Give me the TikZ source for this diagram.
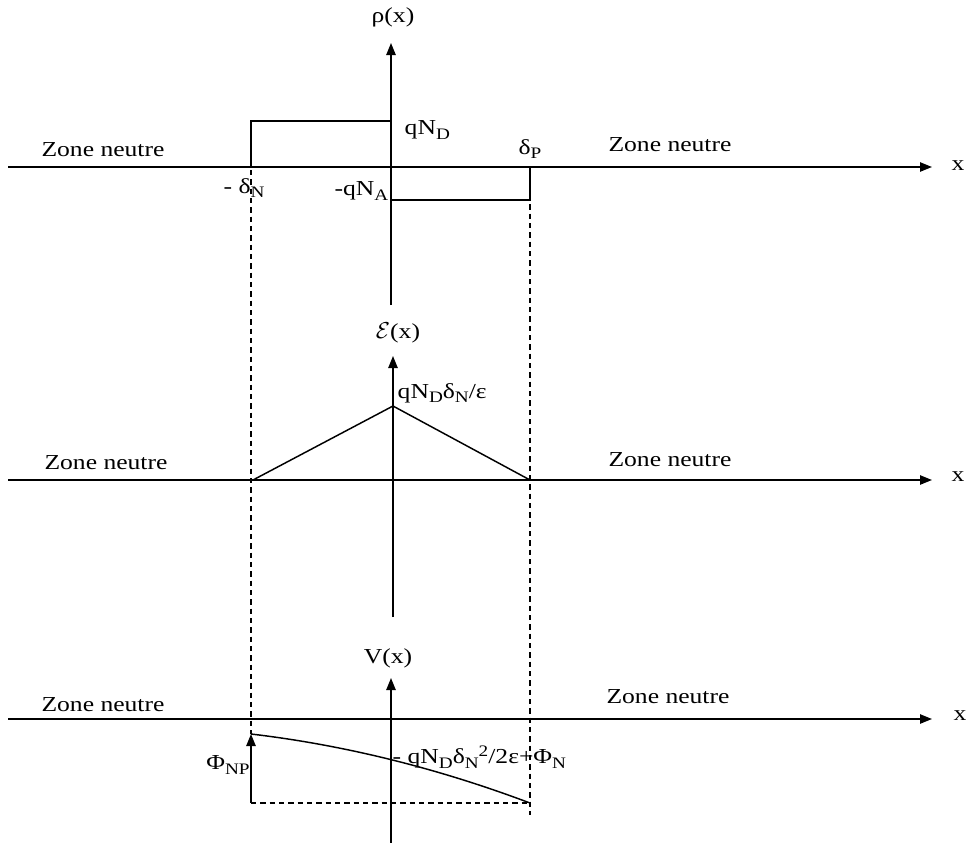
\documentclass[tikz,border=0pt]{standalone}
\usepackage{fontspec}
\setmainfont{Liberation Serif}[FakeStretch=1.2]
\usetikzlibrary{arrows.meta}
\newcommand\sbs[1]{\raisebox{-0.45ex}{\fontsize{12}{13}\selectfont #1}}
\newcommand\sps[1]{\raisebox{0.75ex}{\fontsize{12}{13}\selectfont #1}}
\begin{document}
\begin{tikzpicture}[x=0.75pt,y=-0.75pt,
  line width=1.1pt,
  axis/.style={-{Triangle[length=9pt,width=7pt]}},
  guide/.style={dashed,line width=0.8pt,dash pattern=on 4pt off 3pt},
  lbl/.style={inner sep=0pt,font=\fontsize{16}{18}\selectfont}]
\useasboundingbox (0,0) rectangle (972,843);
% ---------- top: rho(x)
\coordinate (ax1s) at (8,167);
\coordinate (ax1e) at (932,167);
\coordinate (ay1s) at (391,305);
\coordinate (ay1e) at (391,43);
\draw[axis] (ax1s) -- (ax1e);
\draw[axis] (ay1s) -- (ay1e);
\coordinate (r1) at (251,167);
\coordinate (r2) at (251,121);
\coordinate (r3) at (391,121);
\draw (r1) -- (r2) -- (r3);
\coordinate (n1) at (391,200);
\coordinate (n2) at (530,200);
\coordinate (n3) at (530,167);
\draw (n1) -- (n2) -- (n3);
\node[lbl] (rho) at (393,17) {ρ(x)};
\node[lbl,anchor=west] (qnd) at (404,130) {qN\sbs{D}};
\node[lbl] (dp) at (530,149) {δ\sbs{P}};
\node[lbl] (dn) at (244,188) {- δ\sbs{N}};
\node[lbl,anchor=east] (qna) at (389,191) {-qN\sbs{A}};
\node[lbl] (zn1) at (103,150) {Zone neutre};
\node[lbl] (zn2) at (670,145) {Zone neutre};
\node[lbl] (x1) at (958,166) {x};
% ---------- middle: E(x)
\coordinate (ax2s) at (8,480);
\coordinate (ax2e) at (932,480);
\coordinate (ay2s) at (393,617);
\coordinate (ay2e) at (393,356);
\draw[axis] (ax2s) -- (ax2e);
\draw[axis] (ay2s) -- (ay2e);
\coordinate (t1) at (253,480);
\coordinate (t2) at (393,406);
\coordinate (t3) at (530,480);
\draw (t1) -- (t2) -- (t3);
\node[lbl] (ex) at (398,333) {$\mathcal{E}$(x)};
\node[lbl,anchor=west] (emax) at (397,393) {qN\sbs{D}δ\sbs{N}/ε};
\node[lbl] (zn3) at (106,463) {Zone neutre};
\node[lbl] (zn4) at (670,460) {Zone neutre};
\node[lbl] (x2) at (958,477) {x};
% ---------- bottom: V(x)
\coordinate (ax3s) at (8,719);
\coordinate (ax3e) at (932,719);
\coordinate (ay3s) at (391,843);
\coordinate (ay3e) at (391,678);
\draw[axis] (ax3s) -- (ax3e);
\draw[axis] (ay3s) -- (ay3e);
\coordinate (v1) at (251,734);
\coordinate (v2) at (530,803);
\draw (v1) .. controls (344,745) and (437,768) .. (v2);
\coordinate (pb) at (251,803);
\draw[axis] (pb) -- (v1);
\draw[guide] (pb) -- (v2);
\node[lbl] (vx) at (388,658) {V(x)};
\node[lbl] (phinp) at (228,765) {Φ\sbs{NP}};
\node[lbl,anchor=west] (vlab) at (392,757) {- qN\sbs{D}δ\sbs{N}\sps{2}/2ε+Φ\sbs{N}};
\node[lbl] (zn5) at (103,705) {Zone neutre};
\node[lbl] (zn6) at (668,697) {Zone neutre};
\node[lbl] (x3) at (960,716) {x};
% ---------- dashed guides
\coordinate (gl1) at (251,170);
\coordinate (gl2) at (251,734);
\coordinate (gr1) at (530,167);
\coordinate (gr2) at (530,815);
\draw[guide] (gl1) -- (gl2);
\draw[guide] (gr1) -- (gr2);
\end{tikzpicture}
\end{document}
